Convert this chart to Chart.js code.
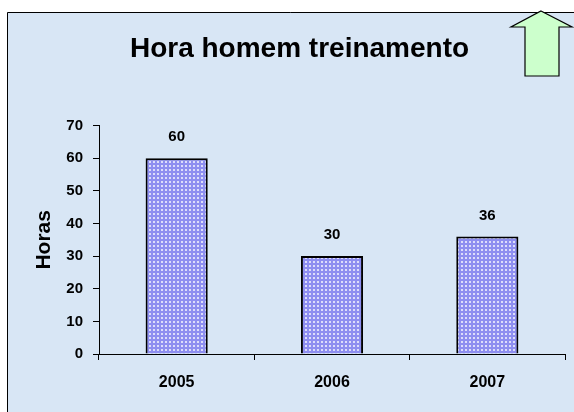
<!DOCTYPE html>
<html>
<head>
<meta charset="utf-8">
<script src="https://cdn.jsdelivr.net/npm/chart.js@4/dist/chart.umd.min.js"></script>
<style>
  html, body { margin: 0; padding: 0; background: #ffffff; }
  #wrap { width: 574px; height: 412px; position: relative; }
</style>
</head>
<body>
<div id="wrap"><canvas id="horasChart"></canvas></div>
<script>
// ===== DADOS =====
const anos = ['2005', '2006', '2007'];
const horas = [60, 30, 36];
const tituloGrafico = 'Hora homem treinamento';
const tituloEixoY = 'Horas';

const FONTE = "'Liberation Sans', Arial, sans-serif";

// textura pontilhada das barras
const padraoBarra = (() => {
    const c = document.createElement('canvas');
    c.width = 4; c.height = 4;
    const g = c.getContext('2d');
    g.fillStyle = '#8e8ef0';
    g.fillRect(0, 0, 4, 4);
    g.fillStyle = 'rgba(255,255,255,0.7)';
    g.fillRect(1, 1, 2, 2);
    return g.createPattern(c, 'repeat');
})();

// fundo, moldura e seta verde
const fundoPlugin = {
    id: 'fundo',
    beforeDraw(chart) {
        const ctx = chart.ctx;
        ctx.save();
        ctx.fillStyle = '#ffffff';
        ctx.fillRect(0, 0, chart.width, chart.height);
        ctx.fillStyle = '#d8e6f5';
        ctx.fillRect(7, 12, chart.width - 7, chart.height - 12);
        ctx.strokeStyle = '#000000';
        ctx.lineWidth = 1;
        ctx.beginPath();
        ctx.moveTo(7.5, chart.height);
        ctx.lineTo(7.5, 12.5);
        ctx.lineTo(chart.width, 12.5);
        ctx.stroke();
        ctx.restore();
    },
    afterDraw(chart) {
        const ctx = chart.ctx;
        ctx.save();
        ctx.fillStyle = '#ccffcc';
        ctx.strokeStyle = '#000000';
        ctx.lineWidth = 1.2;
        ctx.beginPath();
        ctx.moveTo(541, 11);
        ctx.lineTo(572, 27);
        ctx.lineTo(559, 27);
        ctx.lineTo(559, 76);
        ctx.lineTo(525, 76);
        ctx.lineTo(525, 27);
        ctx.lineTo(511, 27);
        ctx.closePath();
        ctx.fill();
        ctx.stroke();
        ctx.restore();
    }
};

// rótulos de valor acima das barras
const rotulosPlugin = {
    id: 'rotulos',
    afterDatasetsDraw(chart) {
        const ctx = chart.ctx;
        const meta = chart.getDatasetMeta(0);
        ctx.save();
        ctx.font = 'bold 15px ' + FONTE;
        ctx.fillStyle = '#000000';
        ctx.textAlign = 'center';
        ctx.textBaseline = 'middle';
        meta.data.forEach((bar, i) => {
            ctx.fillText(String(horas[i]), bar.x, bar.y - 21);
        });
        ctx.restore();
    }
};

new Chart(document.getElementById('horasChart'), {
    type: 'bar',
    data: {
        labels: anos,
        datasets: [{
            label: tituloEixoY,
            data: horas,
            backgroundColor: padraoBarra,
            borderColor: '#000000',
            borderWidth: 2,
            borderSkipped: 'bottom',
            barPercentage: 0.4,
            categoryPercentage: 1
        }]
    },
    options: {
        responsive: true,
        maintainAspectRatio: false,
        animation: false,
        layout: {
            padding: { top: 0, left: 34, right: 9, bottom: 0 }
        },
        plugins: {
            legend: { display: false },
            tooltip: { enabled: false },
            title: {
                display: true,
                text: tituloGrafico,
                color: '#000000',
                font: { family: FONTE, size: 28, weight: 'bold', lineHeight: 1.2 },
                padding: { top: 32, bottom: 60 }
            }
        },
        scales: {
            x: {
                afterFit: (s) => { s.height = 58; },
                grid: {
                    display: true,
                    drawOnChartArea: false,
                    drawTicks: true,
                    tickLength: 6,
                    color: '#000000',
                    offset: true
                },
                border: { display: true, color: '#000000', width: 1 },
                ticks: {
                    color: '#000000',
                    padding: 13,
                    font: { family: FONTE, size: 16, weight: 'bold' }
                }
            },
            y: {
                min: 0,
                max: 70,
                afterFit: (s) => { s.width = 65; },
                grid: {
                    display: true,
                    drawOnChartArea: false,
                    drawTicks: true,
                    tickLength: 6,
                    color: '#000000'
                },
                border: { display: true, color: '#000000', width: 1 },
                ticks: {
                    stepSize: 10,
                    color: '#000000',
                    padding: 10,
                    font: { family: FONTE, size: 15, weight: 'bold' }
                },
                title: {
                    display: true,
                    text: tituloEixoY,
                    color: '#000000',
                    font: { family: FONTE, size: 21, weight: 'bold', lineHeight: 1 },
                    padding: { top: 0, bottom: 0 }
                }
            }
        }
    },
    plugins: [fundoPlugin, rotulosPlugin]
});
</script>
</body>
</html>
